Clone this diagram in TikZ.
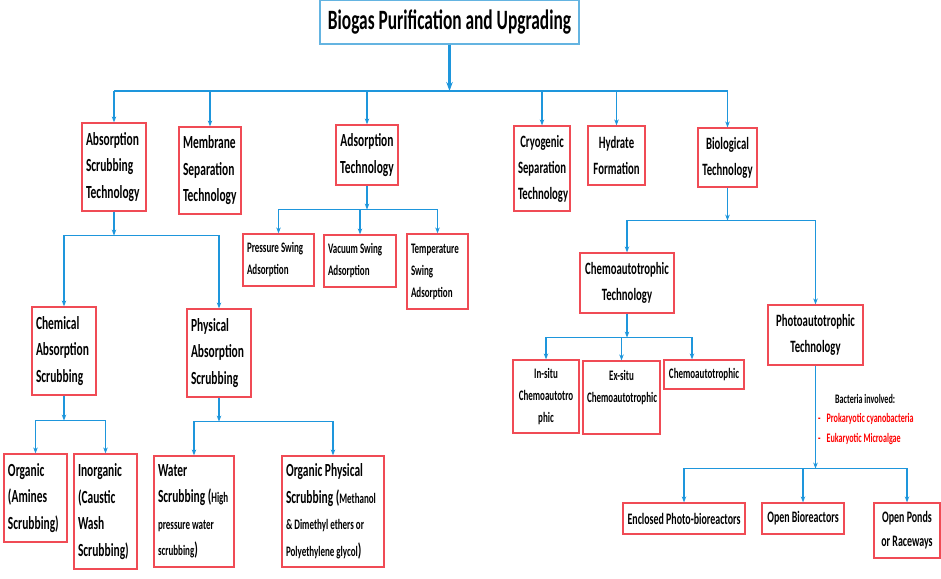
\documentclass[tikz,border=0pt]{standalone}
\usepackage{fontspec}
\setmainfont{Carlito}[FakeStretch=0.62]
\usetikzlibrary{arrows.meta,calc}
\definecolor{lblue}{RGB}{30,150,220}
\definecolor{bred}{RGB}{240,75,85}
\definecolor{tblue}{RGB}{100,180,225}
\definecolor{rtext}{RGB}{255,0,0}
\newcommand\fT{\fontsize{28}{34}\selectfont\bfseries}
\newcommand\fM{\fontsize{18.5}{26.5}\selectfont\bfseries}
\newcommand\fR{\fontsize{17.3}{26}\selectfont\bfseries}
\newcommand\fB{\fontsize{16}{24}\selectfont\bfseries}
\newcommand\fS{\fontsize{14.5}{22}\selectfont\bfseries}
\newcommand\fX{\fontsize{13}{19.5}\selectfont\bfseries}
\tikzset{
  box/.style={draw=bred, line width=1.2pt, inner xsep=4pt, inner ysep=0pt, fill=white},
  titlebox/.style={draw=tblue, line width=1.2pt, inner sep=0pt, font=\fT},
  conn/.style={draw=lblue, line width=1.3pt, -{Stealth[length=6pt,width=4.5pt]}},
  busline/.style={draw=lblue, line width=1.3pt},
  thickbus/.style={draw=lblue, line width=2.6pt},
  mainconn/.style={draw=lblue, line width=2.4pt, -{Stealth[length=9pt,width=6.5pt]}},
}
% \bx{name}{x1}{y1}{x2}{y2}{align}{font}{text}
\newcommand\bx[8]{%
  \pgfmathsetmacro\bxw{#4-#2-8}%
  \pgfmathsetmacro\bxh{#5-#3}%
  \pgfmathsetmacro\bxx{(#2+#4)/2}%
  \pgfmathsetmacro\bxy{-(#3+#5)/2}%
  \node[box,align=#6,font=#7,text width=\bxw pt,minimum height=\bxh pt] (#1) at (\bxx pt,\bxy pt) {#8};}
\begin{document}
\begin{tikzpicture}[x=1pt,y=1pt]
\useasboundingbox (0,0) rectangle (941,-578);
\node[titlebox, minimum width=259pt, minimum height=44pt] (title) at (449.5,-22) {\raisebox{-3pt}{Biogas Purification and Upgrading}};
% level 1
\bx{a1}{82}{123}{146}{211}{flush left}{\fM}{Absorption\\Scrubbing\\Technology}
\bx{a2}{179}{127}{241}{214}{flush left}{\fM}{Membrane\\Separation\\Technology}
\bx{a3}{336}{125}{398}{185}{flush center}{\fM}{Adsorption\\Technology}
\bx{a4}{514}{126}{570}{211}{flush center}{\fR}{Cryogenic\\Separation\\Technology}
\bx{a5}{588}{126}{645}{185}{flush center}{\fR}{Hydrate\\Formation}
\bx{a6}{698}{128}{757}{187}{flush center}{\fR}{Biological\\Technology}
% adsorption children
\bx{p1}{243}{234}{314}{286}{flush left}{\fS}{Pressure~Swing\\Adsorption}
\bx{p2}{324}{235}{396}{287}{flush left}{\fS}{Vacuum~Swing\\Adsorption}
\bx{p3}{407}{234}{468}{309}{flush left}{\fS}{Temperature\\Swing\\Adsorption}
% absorption children
\bx{c1}{32}{307}{96}{395}{flush left}{\fM}{Chemical\\Absorption\\Scrubbing}
\bx{c2}{187}{309}{251}{397}{flush left}{\fM}{Physical\\Absorption\\Scrubbing}
\bx{o1}{4}{454}{67}{542}{flush left}{\fM}{Organic\\(Amines\\Scrubbing)}
\bx{o2}{74}{454}{137}{569}{flush left}{\fM}{Inorganic\\(Caustic\\Wash\\Scrubbing)}
\bx{w1}{154}{456}{234}{567}{flush left}{\fM}{Water\\Scrubbing~({\fS High}\\{\fS pressure~water}\\{\fS scrubbing})}
\bx{w2}{282}{456}{384}{567}{flush left}{\fM}{Organic~Physical\\Scrubbing~({\fS Methanol}\\{\fS\&~Dimethyl~ethers~or}\\{\fS Polyethylene~glycol})}
% biological children
\bx{b1}{580}{253}{674}{313}{flush center}{\fR}{Chemoautotrophic\\Technology}
\bx{b2}{768}{305}{863}{365}{flush center}{\fR}{Photoautotrophic\\Technology}
\bx{e1}{513}{360}{579}{433}{flush center}{\fS}{In-situ\\Chemoautotro\\phic}
\bx{e2}{583}{361}{660}{434}{flush center}{\fS}{Ex-situ\\Chemoautotrophic\\\mbox{}}
\bx{e3}{664}{360}{744}{389}{flush center}{\fS}{Chemoautotrophic}
\bx{r1}{623}{503}{745}{534}{flush center}{\fB}{Enclosed~Photo-bioreactors}
\bx{r2}{762}{503}{844}{534}{flush center}{\fB}{Open~Bioreactors}
\bx{r3}{874}{503}{940}{558}{flush center}{\fB}{Open~Ponds\\or~Raceways}
% bacteria note
\node[anchor=north west, inner sep=0pt, font=\fX, align=left] (bact) at (818,-394) {\hspace*{17pt}Bacteria involved:\\\textcolor{rtext}{-\hspace*{6pt}Prokaryotic cyanobacteria}\\\textcolor{rtext}{-\hspace*{6pt}Eukaryotic Microalgae}};
% junction coordinates
\coordinate (busc) at (0,-91);
\path (a1.south) ++(0,-24) coordinate (j1);
\path (a3.south) ++(0,-24) coordinate (j3);
\path (a6.south) ++(0,-33) coordinate (j6);
\path (c1.south) ++(0,-25) coordinate (jc1);
\path (c2.south) ++(0,-24) coordinate (jc2);
\path (b1.south) ++(0,-24) coordinate (jb1);
\path (b2.south) ++(0,-103) coordinate (jb2);
% main bus
\draw[busline] (a1.north |- busc) -- (a6.north |- busc);
\draw[thickbus] (a3.north |- busc) -- (a4.north |- busc);
\draw[mainconn] (title.south) -- (title.south |- busc);
\foreach \n in {a1,a2,a3,a4,a5,a6} \draw[conn] (\n.north |- busc) -- (\n.north);
% adsorption
\draw[conn] (a3.south) -- (j3);
\foreach \n in {p1,p2,p3} \draw[conn] (j3) -| (\n.north);
% absorption
\draw[conn] (a1.south) -- (j1);
\foreach \n in {c1,c2} \draw[conn] (j1) -| (\n.north);
\draw[conn] (c1.south) -- (jc1);
\foreach \n in {o1,o2} \draw[conn] (jc1) -| (\n.north);
\draw[conn] (c2.south) -- (jc2);
\foreach \n in {w1,w2} \draw[conn] (jc2) -| (\n.north);
% biological
\draw[conn] (a6.south) -- (j6);
\foreach \n in {b1,b2} \draw[conn] (j6) -| (\n.north);
\draw[conn] (b1.south) -- (jb1);
\foreach \n in {e1,e2} \draw[conn] (jb1) -| (\n.north);
\draw[conn] (jb1) -| ([xshift=-12pt]e3.north);
\draw[conn] (b2.south) -- (jb2);
\foreach \n in {r1,r2,r3} \draw[conn] (jb2) -| (\n.north);
\end{tikzpicture}
\end{document}
